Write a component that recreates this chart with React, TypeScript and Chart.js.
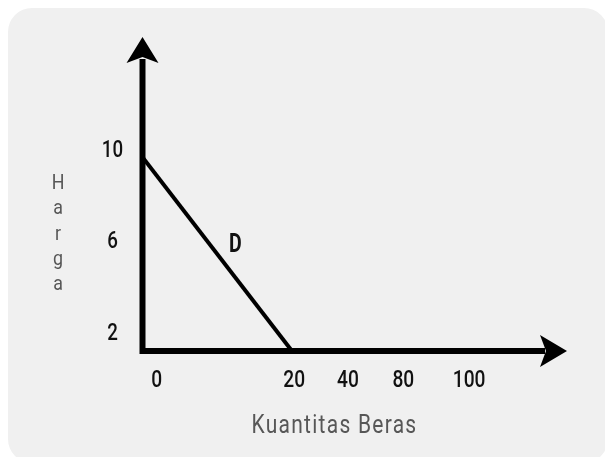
import { useEffect, useRef } from "react";
import { Chart, registerables } from "chart.js";

Chart.register(...registerables);

// Demand curve for rice: quantity (x) against price (y)
const quantity = [0, 20];
const price = [10, 0];
const curveLabel = "D";

// Axis captions and tick labels
const quantityTitle = "Kuantitas Beras";
const priceTitle = "Harga";
const quantityTicks = ["0", "20", "40", "80", "100"];
const priceTicks = ["10", "6", "2"];

// Where each tick label sits along its axis, in axis units
const quantityTickAt = [1.9, 20.3, 27.5, 34.9, 43.7];
const priceTickAt = [10.45, 5.73, 1.01];

const FONT = "Roboto, 'DejaVu Sans', sans-serif";
const INK = "#111111";
const MUTED = "#575757";
const W = 600;
const H = 455;

// Narrow, DIN-like lettering: draw centred text squeezed horizontally
function narrowText(ctx: CanvasRenderingContext2D, text: string, x: number, y: number, squeeze: number) {
  ctx.save();
  ctx.translate(x, y);
  ctx.scale(squeeze, 1);
  ctx.fillText(text, 0, 0);
  ctx.restore();
}

const axesPlugin = {
  id: "demandAxes",
  afterDatasetsDraw(chart: any) {
    const { ctx, chartArea, scales } = chart;
    const { left, right, top, bottom } = chartArea;
    const xs = scales.x;
    const ys = scales.y;
    ctx.save();

    // axis lines
    ctx.strokeStyle = "#000";
    ctx.fillStyle = "#000";
    ctx.lineWidth = 6;
    ctx.lineCap = "butt";
    ctx.beginPath();
    ctx.moveTo(left, bottom + 3);
    ctx.lineTo(left, top + 22);
    ctx.moveTo(left - 3, bottom);
    ctx.lineTo(right - 22, bottom);
    ctx.stroke();

    // arrow heads
    ctx.beginPath();
    ctx.moveTo(left, top);
    ctx.lineTo(left + 16, top + 26);
    ctx.lineTo(left, top + 20);
    ctx.lineTo(left - 16, top + 26);
    ctx.closePath();
    ctx.fill();
    ctx.beginPath();
    ctx.moveTo(right, bottom);
    ctx.lineTo(right - 27, bottom + 16);
    ctx.lineTo(right - 21, bottom);
    ctx.lineTo(right - 27, bottom - 16);
    ctx.closePath();
    ctx.fill();

    // tick labels
    ctx.fillStyle = INK;
    ctx.font = `500 24px ${FONT}`;
    ctx.textAlign = "center";
    ctx.textBaseline = "alphabetic";
    priceTicks.forEach((t, i) => {
      narrowText(ctx, t, left - 30, ys.getPixelForValue(priceTickAt[i]) + 8.5, 0.78);
    });
    quantityTicks.forEach((t, i) => {
      narrowText(ctx, t, xs.getPixelForValue(quantityTickAt[i]), bottom + 36, 0.8);
    });

    // curve label beside the middle of the line
    const mx = xs.getPixelForValue((quantity[0] + quantity[1]) / 2);
    const my = ys.getPixelForValue((price[0] + price[1]) / 2);
    ctx.font = `bold 25px ${FONT}`;
    narrowText(ctx, curveLabel, mx + 18, my - 2, 0.78);

    // axis titles
    ctx.fillStyle = MUTED;
    ctx.font = `25px ${FONT}`;
    (ctx as any).letterSpacing = "1.5px";
    narrowText(ctx, quantityTitle, 326.5, bottom + 82, 0.84);
    (ctx as any).letterSpacing = "0px";
    ctx.font = `21px ${FONT}`;
    priceTitle.split("").forEach((ch, i) => {
      narrowText(ctx, ch, 50, 181 + i * 25.3, 0.85);
    });

    ctx.restore();
  },
};

export default function App() {
  const ref = useRef<HTMLCanvasElement | null>(null);

  useEffect(() => {
    document.documentElement.style.overflow = "hidden";
    const canvas = ref.current;
    if (!canvas) return;
    const chart = new Chart(canvas, {
      type: "scatter",
      data: {
        datasets: [
          {
            label: curveLabel,
            data: quantity.map((q, i) => ({ x: q, y: price[i] })),
            showLine: true,
            borderColor: "#000",
            borderWidth: 4,
            pointRadius: 0,
            pointHoverRadius: 0,
          },
        ],
      },
      options: {
        responsive: false,
        animation: false,
        devicePixelRatio: 1,
        layout: { padding: { left: 134.5, right: W - 559, top: 29, bottom: H - 343 } },
        scales: {
          x: { type: "linear", min: 0, max: 56.8, display: false },
          y: { type: "linear", min: 0, max: 16.2, display: false },
        },
        plugins: {
          legend: { display: false },
          tooltip: { enabled: false },
        },
      },
      plugins: [axesPlugin],
    });
    return () => chart.destroy();
  }, []);

  return (
    <div
      style={{
        position: "fixed",
        left: 8,
        top: 8,
        width: W,
        height: H,
        background: "#f0f0f0",
        borderRadius: 24,
        overflow: "hidden",
      }}
    >
      <canvas ref={ref} width={W} height={H} style={{ display: "block", width: W, height: H }} />
    </div>
  );
}
